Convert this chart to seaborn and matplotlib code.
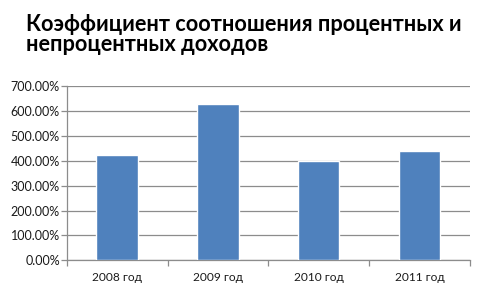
import matplotlib
matplotlib.use("Agg")
import matplotlib.pyplot as plt
import seaborn as sns
import pandas as pd
import numpy as np
from matplotlib.ticker import FuncFormatter, FixedLocator, NullFormatter

categories = ["2008 год", "2009 год", "2010 год", "2011 год"]
values = [423.0, 628.0, 398.0, 439.0]
title = "Коэффициент соотношения процентных и\nнепроцентных доходов"

sns.set_style("white")
plt.rcParams['font.family'] = ['Lato', 'DejaVu Sans']

df = pd.DataFrame({"year": categories, "value": values})

fig = plt.figure(figsize=(4.8, 2.88), dpi=100)
ax = fig.add_axes([0.139, 0.096, 0.840, 0.605])
sns.barplot(data=df, x="year", y="value", color="#4F81BD", width=0.41,
            saturation=1, ax=ax, zorder=3)

ax.set_ylim(0, 700)
ax.set_xlim(-0.5, len(categories) - 0.5)
ax.set_yticks(np.arange(0, 701, 100))
ax.yaxis.set_major_formatter(FuncFormatter(lambda v, p: f"{v:.2f}%"))
ax.grid(axis="y", color="#8C8C8C", linewidth=0.9, zorder=0)
ax.set_axisbelow(True)

ax.set_xlabel("")
ax.set_ylabel("")
for s in ["top", "right"]:
    ax.spines[s].set_visible(False)
for s in ["left", "bottom"]:
    ax.spines[s].set_color("#8C8C8C")
    ax.spines[s].set_linewidth(0.9)

ax.tick_params(axis="y", which="major", left=True, length=4, color="#8C8C8C",
               width=0.9, labelsize=9, pad=1, labelcolor="#1a1a1a")
ax.tick_params(axis="x", which="major", bottom=False, labelsize=8.6, pad=5,
               labelcolor="#1a1a1a")
ax.xaxis.set_minor_locator(FixedLocator(np.arange(-0.5, len(categories), 1.0)))
ax.xaxis.set_minor_formatter(NullFormatter())
ax.tick_params(axis="x", which="minor", bottom=True, length=4, color="#8C8C8C", width=0.9)

fig.text(0.054, 0.952, title, fontsize=15.6, fontweight="bold", va="top", ha="left",
         linespacing=0.93, color="black")

fig.savefig("out.png", dpi=100, facecolor="white")
